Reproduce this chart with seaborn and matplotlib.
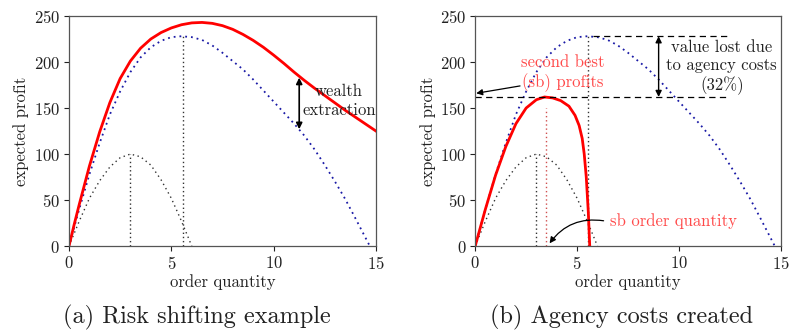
import matplotlib
matplotlib.use("Agg")
import matplotlib.pyplot as plt
import seaborn as sns
import pandas as pd

# --- data ---
# first best expected profit (blue dotted)
fb_q = [0, 0.5, 1, 1.5, 2, 2.5, 3, 3.5, 4, 4.5, 5, 5.5, 6, 6.5, 7, 7.5, 8, 8.5, 9, 9.5,
        10, 10.5, 11, 11.5, 12, 12.5, 13, 13.5, 14, 14.7]
fb_profit = [0, 40, 78, 112, 143, 168, 189, 205, 216, 223, 227, 228, 227, 224, 218, 210, 201,
             192, 181, 169, 157, 145, 133, 120, 105, 88, 70, 51, 30, 0]

# small reference curve (black dotted)
small_q = [0, 0.5, 1, 1.5, 2, 2.5, 3, 3.5, 4, 4.5, 5, 5.5, 6]
small_profit = [0, 27, 52, 71, 86, 96, 100, 97, 88, 72, 52, 27, 0]

# risk shifting owner profit (red, panel a)
rs_q = [0, 0.25, 0.5, 0.75, 1, 1.5, 2, 2.5, 3, 3.5, 4, 4.5, 5, 5.5, 6, 6.5, 7, 7.5, 8, 8.5,
        9, 9.5, 10, 10.5, 11, 11.5, 12, 12.5, 13, 13.5, 14, 14.5, 15]
rs_profit = [0, 23, 45, 66, 87, 124, 156, 182, 201, 215, 225, 232, 237, 240.5, 242.5, 243,
             242, 239.5, 235.5, 230, 223.5, 216, 207.5, 198.5, 189, 180, 171.5, 163.5, 155.5,
             147.5, 140, 132.5, 125]

# second best profit (red, panel b)
sb_q = [0, 0.5, 1, 1.5, 2, 2.5, 3, 3.4, 3.8, 4.2, 4.6, 4.9, 5.1, 5.25, 5.35, 5.45, 5.55, 5.62]
sb_profit = [0, 40, 77, 108, 133, 150, 159, 162, 161, 158, 152, 142, 131, 117, 100, 75, 37, 0]

fb_opt_q, fb_opt = 5.55, 228
small_opt_q, small_opt = 3.0, 100
sb_opt_q, sb_opt = 3.45, 162
sb_line_top = 150

plt.rcParams['font.family'] = 'cmr10'
plt.rcParams['mathtext.fontset'] = 'cm'
plt.rcParams['axes.formatter.use_mathtext'] = True
plt.rcParams['axes.unicode_minus'] = False

BLUE = '#1a1aa6'
RED = '#ff0000'
SALMON = '#ff4a4a'
DOT = '#333333'
TXT = '#222222'

fb = pd.DataFrame({'q': fb_q, 'profit': fb_profit})
small = pd.DataFrame({'q': small_q, 'profit': small_profit})
rs = pd.DataFrame({'q': rs_q, 'profit': rs_profit})
sb = pd.DataFrame({'q': sb_q, 'profit': sb_profit})

fig = plt.figure(figsize=(7.9, 3.33), dpi=100)
ax1 = fig.add_axes([0.0873, 0.261, 0.3886, 0.691])
ax2 = fig.add_axes([0.6015, 0.261, 0.3870, 0.691])


def base(ax):
    sns.lineplot(data=fb, x='q', y='profit', ax=ax, color=BLUE, linestyle=(0, (1, 2.2)), lw=1.3)
    sns.lineplot(data=small, x='q', y='profit', ax=ax, color=DOT, linestyle=(0, (1, 2.5)), lw=1.0)
    ax.plot([small_opt_q, small_opt_q], [0, small_opt], color=DOT, ls=(0, (1, 2)), lw=1.0)
    ax.plot([fb_opt_q, fb_opt_q], [0, fb_opt], color=DOT, ls=(0, (1, 2)), lw=1.0)
    ax.set_xlim(0, 15)
    ax.set_ylim(0, 250)
    ax.set_xticks([0, 5, 10, 15])
    ax.set_yticks([0, 50, 100, 150, 200, 250])
    ax.set_xlabel('order quantity', fontsize=12, color=TXT, labelpad=1.5)
    ax.set_ylabel('expected profit', fontsize=12, color=TXT, labelpad=3)
    ax.tick_params(labelsize=12, length=3.5, width=0.8, colors=TXT, pad=3)
    for s in ax.spines.values():
        s.set_color('#555555')
        s.set_linewidth(0.9)
    ax.grid(False)


# (a) risk shifting
base(ax1)
sns.lineplot(data=rs, x='q', y='profit', ax=ax1, color=RED, lw=2.0)
ax1.annotate('', xy=(11.25, 183), xytext=(11.25, 127),
             arrowprops=dict(arrowstyle='<|-|>', color='black', lw=1.2,
                             mutation_scale=9, shrinkA=0, shrinkB=0))
ax1.text(13.2, 158, 'wealth\nextraction', ha='center', va='center', fontsize=12,
         color=TXT, linespacing=1.3)

# (b) agency costs
base(ax2)
sns.lineplot(data=sb, x='q', y='profit', ax=ax2, color=RED, lw=2.0)
ax2.plot([sb_opt_q, sb_opt_q], [0, sb_line_top], color='#d05050', ls=(0, (1, 2)), lw=1.0)
ax2.plot([5.8, 12.5], [fb_opt, fb_opt], color='black', ls=(0, (5, 3.5)), lw=0.9)
ax2.plot([0, 12.5], [sb_opt, sb_opt], color='black', ls=(0, (5, 3.5)), lw=0.9)
ax2.annotate('', xy=(9.0, fb_opt), xytext=(9.0, sb_opt),
             arrowprops=dict(arrowstyle='<|-|>', color='black', lw=1.0,
                             mutation_scale=9, shrinkA=0, shrinkB=0))
ax2.text(12.1, 194, 'value lost due\nto agency costs\n(32%)', ha='center', va='center',
         fontsize=12, color=TXT, linespacing=1.25)
ax2.text(4.3, 188, 'second best\n(sb) profits', ha='center', va='center', fontsize=12,
         color=SALMON, linespacing=1.25)
ax2.annotate('', xy=(0.05, 166), xytext=(2.2, 174),
             arrowprops=dict(arrowstyle='-|>', color='black', lw=0.9,
                             mutation_scale=9, shrinkA=0, shrinkB=0))
ax2.text(6.6, 27.5, 'sb order quantity', ha='left', va='center', fontsize=12, color=SALMON)
ax2.annotate('', xy=(3.65, 3), xytext=(6.3, 27.5),
             arrowprops=dict(arrowstyle='-|>', color='black', lw=0.9, mutation_scale=9,
                             shrinkA=0, shrinkB=0, connectionstyle='arc3,rad=0.3'))

fig.text(0.249, 0.028, '(a) Risk shifting example', ha='center', va='baseline', fontsize=17.5,
         color=TXT)
fig.text(0.787, 0.028, '(b) Agency costs created', ha='center', va='baseline', fontsize=17.5,
         color=TXT)

fig.savefig('out.png', dpi=100)
